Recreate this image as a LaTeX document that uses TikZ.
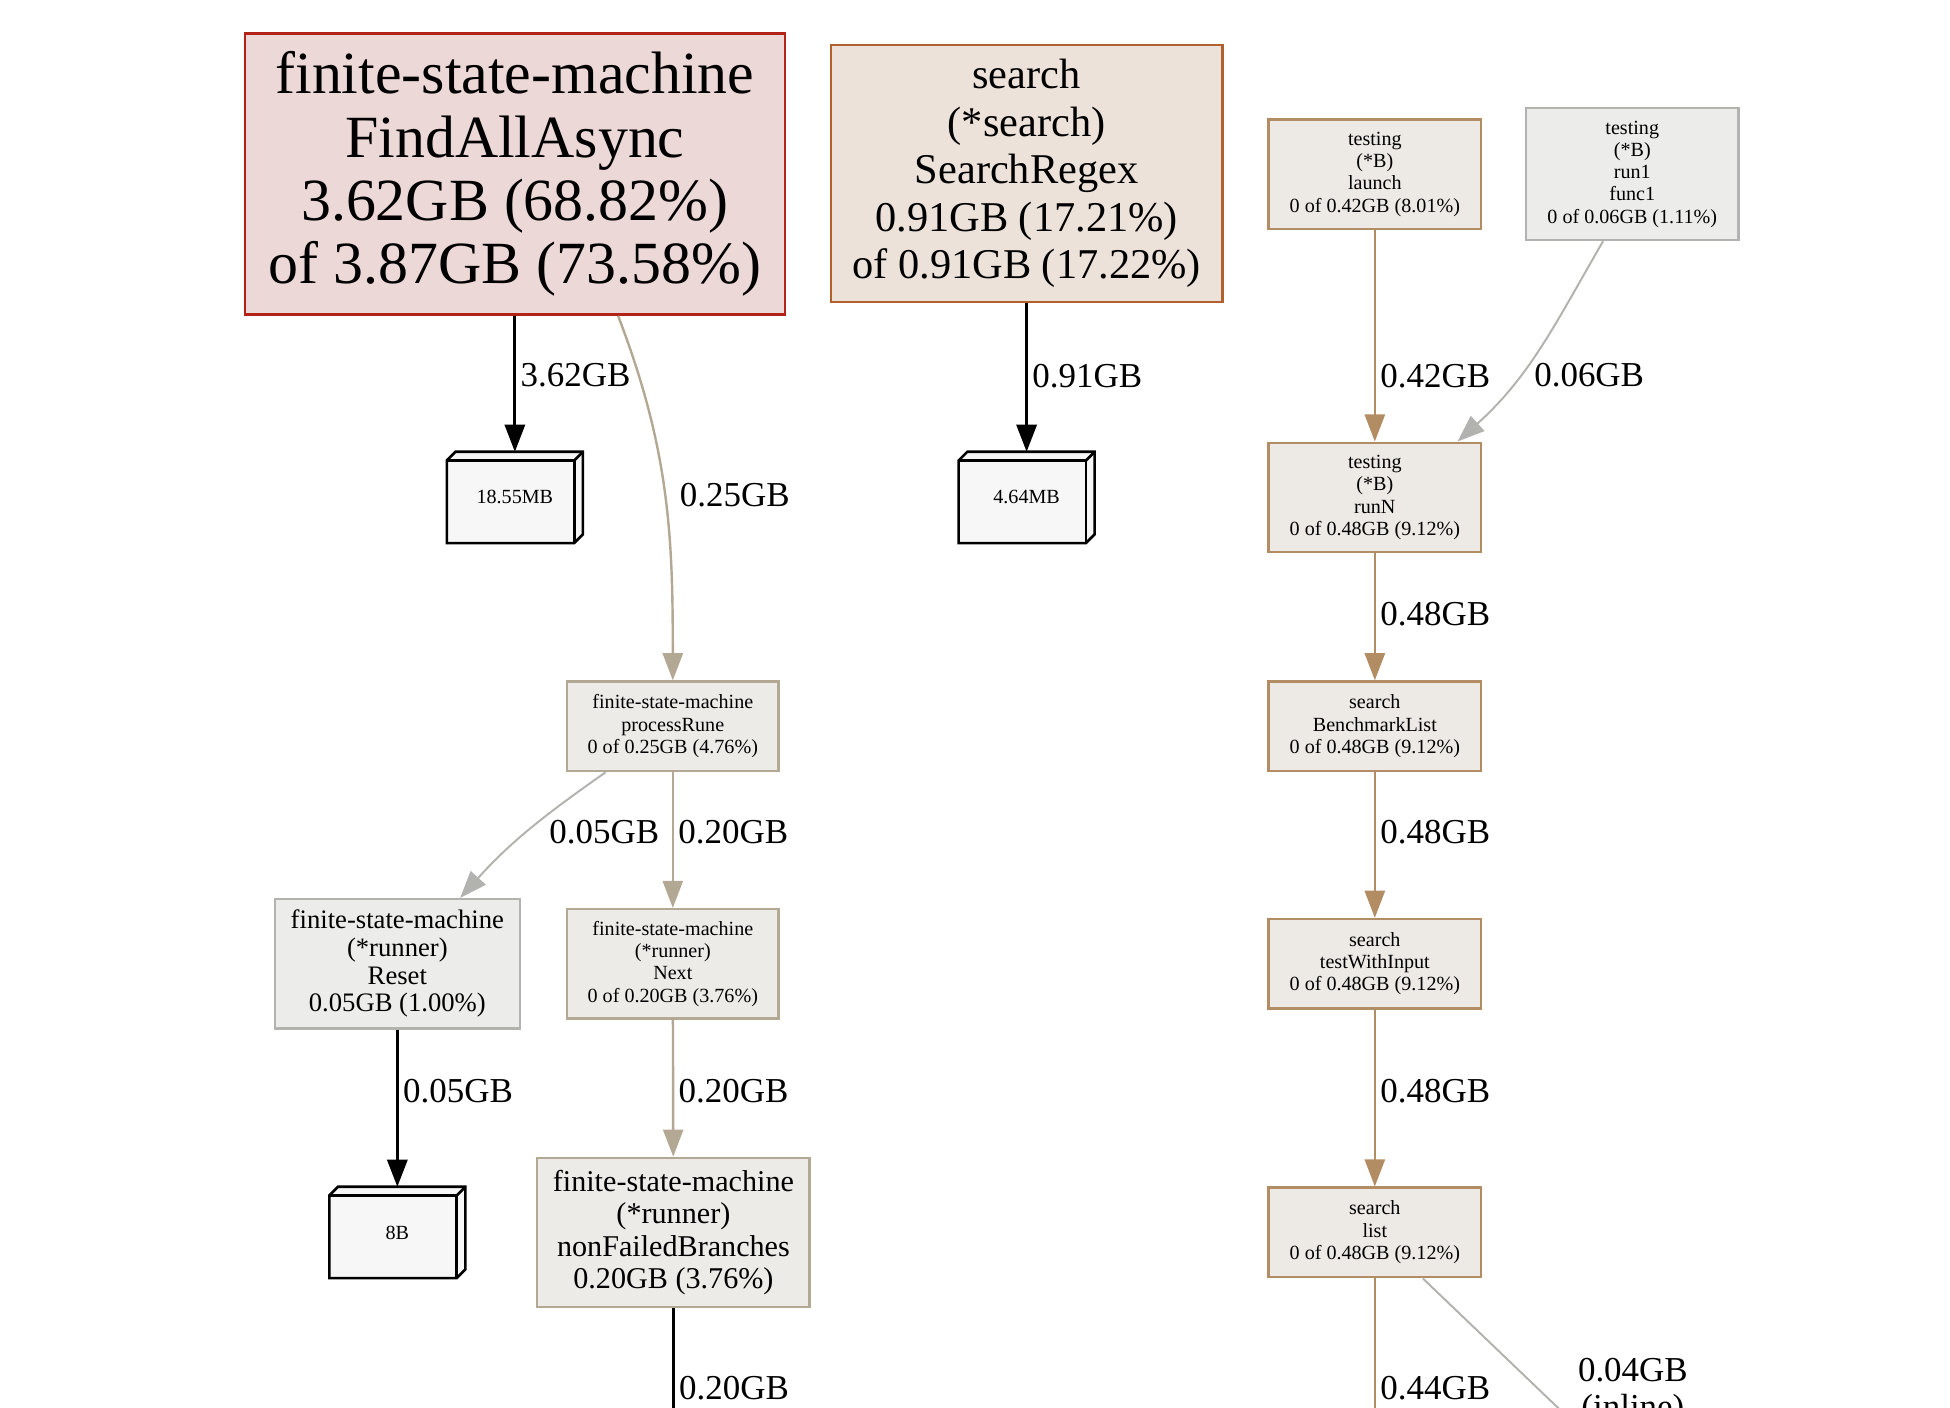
\documentclass[tikz,border=0pt]{standalone}
\usepackage{fontspec}
\setmainfont{Liberation Serif}
\usepackage{tikz}
\usetikzlibrary{arrows.meta,calc,backgrounds}
\definecolor{hotfill}{RGB}{236,216,214}
\definecolor{hotline}{RGB}{178,34,22}
\definecolor{warmfill}{RGB}{237,226,218}
\definecolor{warmline}{RGB}{178,96,46}
\definecolor{tanfill}{RGB}{237,233,229}
\definecolor{tanline}{RGB}{178,140,98}
\definecolor{palefill}{RGB}{236,235,232}
\definecolor{paleline}{RGB}{178,168,148}
\definecolor{greyfill}{RGB}{236,236,234}
\definecolor{greyline}{RGB}{178,178,174}
\definecolor{leaffill}{RGB}{247,247,247}
\newcommand{\pf}[2]{\fontsize{#1}{#2}\selectfont}

\begin{document}
\begin{tikzpicture}[
  fn/.style={draw,rectangle,align=center,inner sep=0pt,line width=0.55pt},
  small/.style={font=\pf{4.6}{5.1}},
  leaf/.style={rectangle,inner sep=0pt,minimum width=1.08cm,minimum height=0.72cm,font=\pf{4.6}{5.1}},
  lbl/.style={anchor=west,inner sep=1pt,text=black,font=\pf{8}{8.5}},
  tip/.style={-{Triangle[length=6.2pt,width=4.6pt]}},
  blk/.style={tip,line width=0.65pt,black},
  tanedge/.style={tip,line width=0.55pt,tanline},
  paleedge/.style={tip,line width=0.55pt,paleline},
  greyedge/.style={tip,line width=0.45pt,greyline}]
  \useasboundingbox (0,0) rectangle (15.68,-11.32);
  \clip (0,0) rectangle (15.68,-11.32);

  \node[fn,fill=hotfill,draw=hotline,minimum width=4.34cm,minimum height=2.26cm,font=\pf{13.7}{14.5}] (fsm) at (4.14,-1.40)
    {finite-state-machine\\FindAllAsync\\3.62GB (68.82\%)\\of 3.87GB (73.58\%)};
  \node[fn,fill=warmfill,draw=warmline,minimum width=3.15cm,minimum height=2.07cm,font=\pf{9.7}{10.9}] (srx) at (8.255,-1.395)
    {search\\(*search)\\SearchRegex\\0.91GB (17.21\%)\\of 0.91GB (17.22\%)};
  \node[fn,small,fill=tanfill,draw=tanline,minimum width=1.71cm,minimum height=0.88cm] (launch) at (11.055,-1.40)
    {testing\\(*B)\\launch\\0 of 0.42GB (8.01\%)};
  \node[fn,small,fill=greyfill,draw=greyline,minimum width=1.71cm,minimum height=1.06cm] (run1) at (13.125,-1.40)
    {testing\\(*B)\\run1\\func1\\0 of 0.06GB (1.11\%)};

  \node[leaf] (m1) at (4.14,-4.00) {18.55MB};
  \node[leaf] (m2) at (8.255,-4.00) {4.64MB};
  \node[fn,small,fill=tanfill,draw=tanline,minimum width=1.71cm,minimum height=0.88cm] (runN) at (11.055,-4.00)
    {testing\\(*B)\\runN\\0 of 0.48GB (9.12\%)};

  \node[fn,small,fill=palefill,draw=paleline,minimum width=1.70cm,minimum height=0.72cm] (proc) at (5.41,-5.84)
    {finite-state-machine\\processRune\\0 of 0.25GB (4.76\%)};
  \node[fn,small,fill=tanfill,draw=tanline,minimum width=1.71cm,minimum height=0.72cm] (bench) at (11.055,-5.84)
    {search\\BenchmarkList\\0 of 0.48GB (9.12\%)};

  \node[fn,fill=greyfill,draw=greyline,minimum width=1.97cm,minimum height=1.04cm,font=\pf{6.1}{6.35}] (reset) at (3.195,-7.75)
    {finite-state-machine\\(*runner)\\Reset\\0.05GB (1.00\%)};
  \node[fn,small,fill=palefill,draw=paleline,minimum width=1.70cm,minimum height=0.88cm] (next) at (5.41,-7.75)
    {finite-state-machine\\(*runner)\\Next\\0 of 0.20GB (3.76\%)};
  \node[fn,small,fill=tanfill,draw=tanline,minimum width=1.71cm,minimum height=0.72cm] (twi) at (11.055,-7.75)
    {search\\testWithInput\\0 of 0.48GB (9.12\%)};

  \node[leaf] (m3) at (3.195,-9.91) {8B};
  \node[fn,fill=palefill,draw=paleline,minimum width=2.19cm,minimum height=1.20cm,font=\pf{6.9}{7.4}] (nfb) at (5.415,-9.91)
    {finite-state-machine\\(*runner)\\nonFailedBranches\\0.20GB (3.76\%)};
  \node[fn,small,fill=tanfill,draw=tanline,minimum width=1.71cm,minimum height=0.72cm] (list) at (11.055,-9.91)
    {search\\list\\0 of 0.48GB (9.12\%)};

  \coordinate (o1) at (5.415,-11.8);
  \coordinate (o2) at (11.055,-11.8);
  \coordinate (o3) at (13.05,-11.82);

  \begin{scope}[on background layer]
    \foreach \b in {m1,m2,m3} {
      \filldraw[fill=leaffill,line width=0.6pt,line join=miter] (\b.south west) -- ($(\b.north west)+(0,-0.07)$) -- ($(\b.north west)+(0.07,0)$)
        -- (\b.north east) -- ($(\b.south east)+(0,0.07)$) -- ($(\b.south east)+(-0.07,0)$) -- cycle;
      \draw[line width=0.6pt] ($(\b.north west)+(0,-0.07)$) -- ($(\b.north east)+(-0.07,-0.07)$) -- ($(\b.south east)+(-0.07,0)$);
      \draw[line width=0.6pt] ($(\b.north east)+(-0.07,-0.07)$) -- (\b.north east);
    }
  \end{scope}

  \draw[blk] (fsm) -- node[lbl,pos=0.44] {3.62GB} (m1);
  \draw[paleedge] ([xshift=0.83cm]fsm.south) to[out=-69,in=90] (proc.north);
  \node[lbl] (l025) at (5.425,-3.98) {0.25GB};
  \draw[blk] (srx) -- node[lbl,pos=0.49] {0.91GB} (m2);
  \draw[tanedge] (launch) -- node[lbl,pos=0.69] {0.42GB} (runN);
  \draw[greyedge] ([xshift=-0.235cm]run1.south) to[out=-120,in=42] ([xshift=0.665cm]runN.north);
  \node[lbl] (l006) at (12.295,-3.02) {0.06GB};
  \draw[tanedge] (runN) -- node[lbl,pos=0.48] {0.48GB} (bench);
  \draw[tanedge] (bench) -- node[lbl,pos=0.41] {0.48GB} (twi);
  \draw[tanedge] (twi) -- node[lbl,pos=0.46] {0.48GB} (list);
  \draw[greyedge] ([xshift=-0.54cm]proc.south) to[out=-145,in=48] ([xshift=0.505cm]reset.north);
  \node[lbl] (l005) at (4.375,-6.69) {0.05GB};
  \draw[paleedge] (proc) -- node[lbl,pos=0.44] {0.20GB} (next);
  \draw[paleedge] (next) -- node[lbl,pos=0.52] {0.20GB} (nfb);
  \draw[blk] (reset) -- node[lbl,pos=0.39] {0.05GB} (m3);
  \draw[blk] (nfb) -- node[lbl,pos=0.50] {0.20GB} (o1);
  \draw[tanedge] (list) -- node[lbl,pos=0.58] {0.44GB} (o2);
  \draw[greyedge] (list) -- (o3);
  \node[lbl,anchor=north,align=center] (l004) at (13.13,-10.88) {0.04GB\\(inline)};
\end{tikzpicture}
\end{document}
